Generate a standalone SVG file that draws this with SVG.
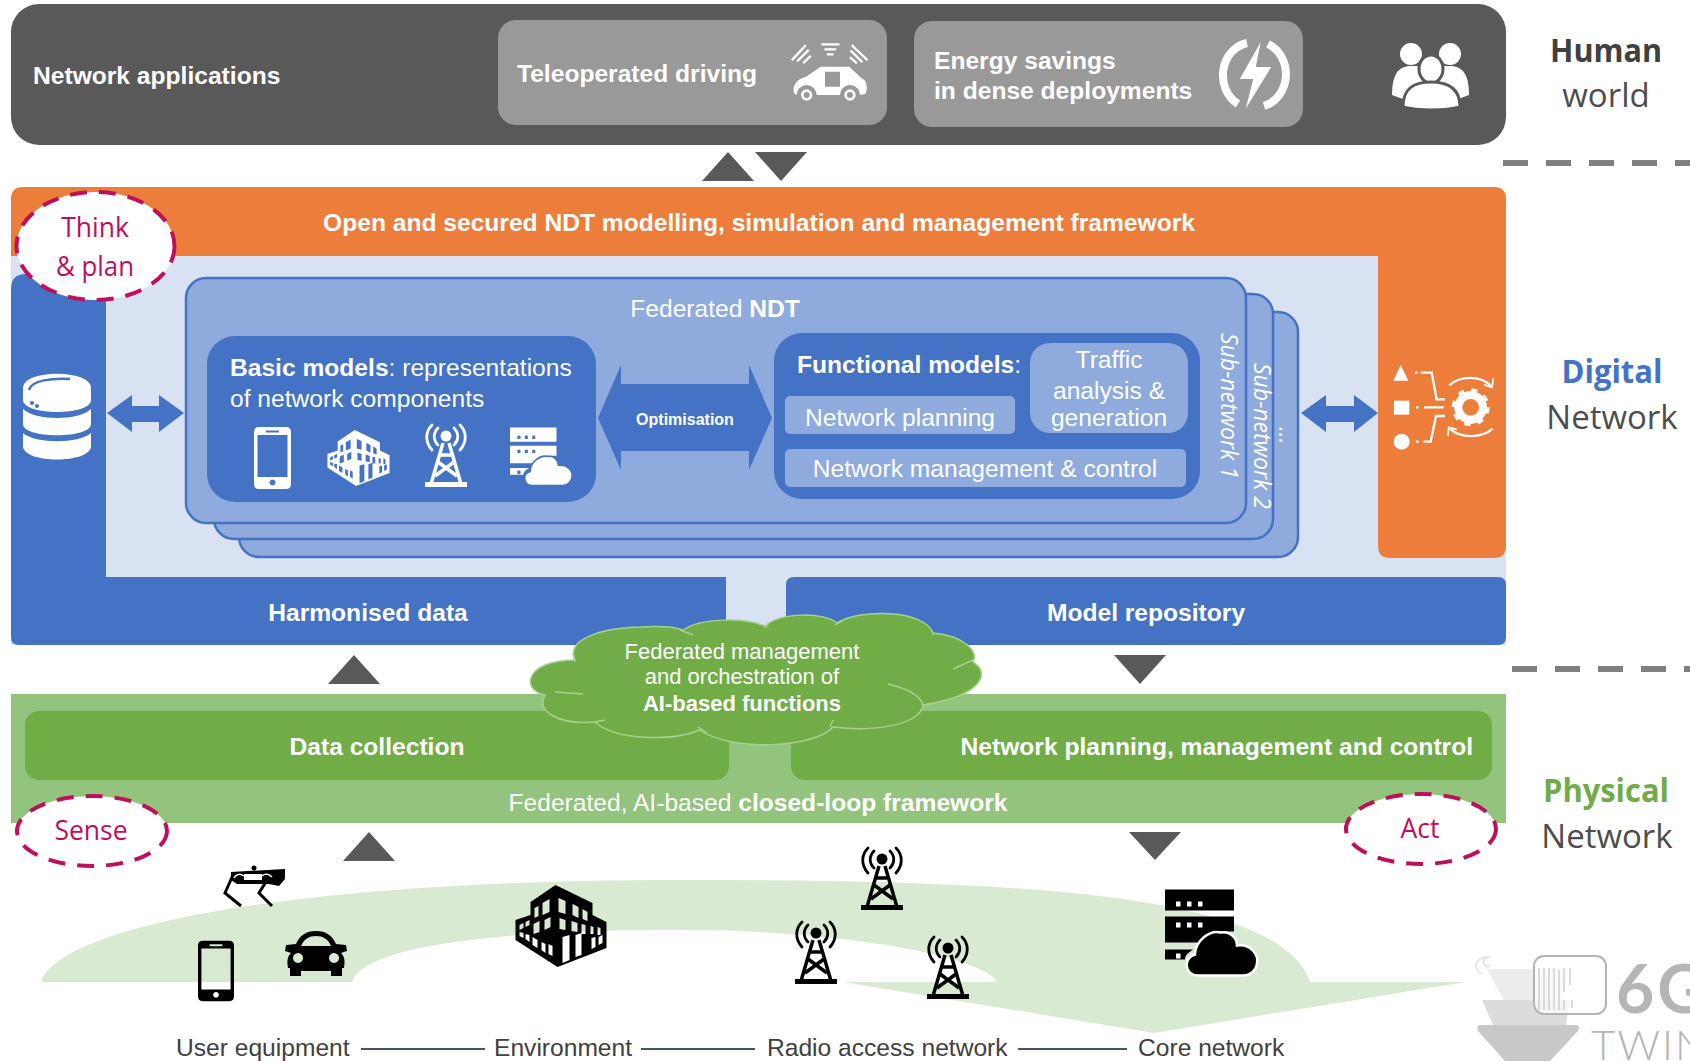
<svg xmlns="http://www.w3.org/2000/svg" xmlns:xlink="http://www.w3.org/1999/xlink" width="1690" height="1061" viewBox="0 0 1690 1061">
<style>
text{font-family:"Liberation Sans",Arial,sans-serif;fill:#fff}
.b{font-weight:bold}
.t24{font-size:24.600px}
.t23{font-size:22px}
.m{text-anchor:middle}
.act{font-family:"Open Sans","Noto Sans",sans-serif;fill:#c00f5a;font-size:26.500px;text-anchor:middle}
.dash{fill:#fff;stroke:#c00f5a;stroke-width:4;stroke-dasharray:17 12}
.side{font-family:"Open Sans","Noto Sans",sans-serif;fill:#4d4d4d;font-size:33px;text-anchor:middle}
.sideb{font-weight:bold}
.sub{font-family:"Open Sans","Noto Sans",sans-serif;font-style:italic;font-size:23px}
.stack{fill:#8faadc;stroke:#4472c4;stroke-width:2.500}
.inner{fill:#8faadc}
.tri{fill:#595959}
.sep{stroke:#7f7f7f;stroke-width:6;stroke-dasharray:25 18;fill:none}
.dbl{fill:#4472c4}
.link{stroke:#44546a;stroke-width:2;fill:none}
.lab{fill:#404040;font-size:24.600px}
.wi{color:#fff;--halo:#4472c4}
.bk{color:#000;--halo:#fff}
.cl{fill:none;stroke:#a9d18e;stroke-width:1.500}
</style>
<defs>
<symbol id="phone" viewBox="0 0 37 62" overflow="visible">
<path fill="currentColor" fill-rule="evenodd" d="M5 0H32Q37 0 37 5V57Q37 62 32 62H5Q0 62 0 57V5Q0 0 5 0ZM3.500 8V50H33.500V8ZM12 3.500V5.500H25V3.500ZM18.500 52.500a3 3 0 1 0 .01 0Z"/>
</symbol>
<symbol id="tower" viewBox="0 0 44 62" overflow="visible">
<g fill="none" stroke="currentColor" stroke-linecap="round">
<circle cx="22" cy="11" r="5.500" fill="currentColor" stroke="none"/>
<path stroke-width="2.800" d="M14 3C9 8 9 15 14 20M30 3C35 8 35 15 30 20"/>
<path stroke-width="2.800" d="M8 0C1 7 1 17 8 25M36 0C43 7 43 17 36 25"/>
<path stroke-width="3.500" stroke-linecap="butt" d="M19 18L7 59M25 18L37 59M14 37L33 51M30 37L11 51M17 30H27"/>
</g>
<rect x="1" y="57" width="42" height="5" fill="currentColor"/>
</symbol>
<symbol id="bld" viewBox="0 0 91 82" overflow="visible">
<path fill="currentColor" fill-rule="evenodd" d="M40 0L77 18V30L91 37V63L42 82L0 55V35L15 30V17ZM19 23V33L23 31V21ZM27 18V30L34 27V14ZM43 13V27L50 29V16ZM57 19V30L63 33V22ZM67 24V34L72 36V27ZM4 40V45L8 43V38ZM10 37V42L14 40V35ZM4 51L8 53V48L4 47ZM10 54L14 57V50L10 49ZM18 39V49L24 47V36ZM29 35V45L35 42V32ZM44 33V44L50 45V35ZM56 36V46L62 47V38ZM66 39V49L70 49V40ZM75 41V49L78 49V42ZM82 42V50L85 50V43ZM17 52V60L22 63V55ZM26 57V65L30 68V59ZM33 59V69L37 71V61ZM47 52V78L54 75V50ZM60 50V72L66 70V48ZM76 53V64L80 62V52ZM83 52V60L87 58V50Z"/>
</symbol>
<symbol id="srv" viewBox="0 0 92 86" overflow="visible">
<path fill="currentColor" d="M0 0H69V21H0ZM0 27H69V42H52C44 45 36 50 34 53H0ZM0 60H28C24 63 20 65 20 70H0Z"/>
<g fill="var(--halo)"><rect x="11" y="12" width="4.500" height="5"/><rect x="22" y="12" width="4.500" height="5"/><rect x="33" y="12" width="4.500" height="5"/><rect x="11" y="33" width="4.500" height="5"/><rect x="22" y="33" width="4.500" height="5"/><rect x="33" y="33" width="4.500" height="5"/><rect x="11" y="64" width="4.500" height="5"/></g>
<path fill="currentColor" stroke="var(--halo)" stroke-width="2.500" d="M33 86C19 86 18 68 30 65C30 52 44 40 56 43C65 41 72 49 72 56C86 54 94 66 92 74C91 82 84 86 78 86Z"/>
</symbol>
<path id="tleft" d="M0 29L26 0L52 29Z"/>
</defs>

<g id="human-world">
<rect x="11" y="4" width="1495" height="141" rx="28" fill="#595959"/>
<text class="b t24" x="33" y="84">Network applications</text>
<g id="teleop">
<rect x="498" y="20" width="389" height="105" rx="18" fill="#999"/>
<text class="b t24" x="517" y="82">Teleoperated driving</text>
<g transform="translate(780 30) scale(.3333)" fill="#fff" stroke="#fff" stroke-width="7" stroke-linecap="square">
<path fill="none" d="M128 43H175M137 58H165M144 73H157M38 88L75 48M54 92L84 62M72 97L90 80M218 48L260 88M214 64L245 94M212 84L228 98"/>
<path stroke="none" fill-rule="evenodd" d="M42 190C36 165 50 148 78 140L122 110H208L245 145C262 150 264 180 256 192L240 195A30 30 0 0 0 180 195H110A30 30 0 0 0 50 195ZM135 125V170H180V125Z"/>
<circle cx="80" cy="195" r="13" fill="none" stroke-width="8"/><circle cx="210" cy="195" r="13" fill="none" stroke-width="8"/>
</g>
</g>
<g id="energy">
<rect x="914" y="21" width="389" height="106" rx="18" fill="#999"/>
<text class="b t24" x="934" y="69">Energy savings</text>
<text class="b t24" x="934" y="99">in dense deployments</text>
<path fill="none" stroke="#fff" stroke-width="8" d="M1247 43A30 33 0 0 0 1238 104M1264 106A30 33 0 0 0 1268 44"/>
<path fill="#fff" stroke="#999" stroke-width="2" d="M1263 36L1238 80H1252L1243 115L1273 66H1257Z"/>
</g>
<g id="people" fill="#fff" stroke="#595959" stroke-width="3">
<circle cx="1411" cy="54" r="11" stroke="none"/><circle cx="1450" cy="54" r="11" stroke="none"/>
<path stroke="none" d="M1392 95C1392 75 1398 66 1411 66H1450C1463 66 1469 75 1469 95L1450 102H1411Z"/>
<ellipse cx="1431" cy="69" rx="12" ry="14"/>
<path d="M1403 107C1403 88 1414 82 1431 82C1448 82 1460 88 1460 107C1445 111 1418 111 1403 107Z"/>
</g>
</g>

<g id="digital-network">
<rect x="11" y="256" width="1495" height="389" fill="#d9e2f3"/>
<path fill="#ed7d3b" d="M11 199Q11 187 23 187H1494Q1506 187 1506 199V546Q1506 558 1494 558H1390Q1378 558 1378 546V256H11Z"/>
<text class="b t24 m" x="759" y="231">Open and secured NDT modelling, simulation and management framework</text>
<path fill="#4472c4" d="M11 289Q11 274 26 274H106V577H726V637Q726 645 718 645H19Q11 645 11 637Z"/>
<text class="b t24 m" x="368" y="621">Harmonised data</text>
<g id="db" transform="translate(23 374)" fill="#fff">
<path d="M0 14C0 -5 68 -5 68 14V26C68 42 0 42 0 26Z"/>
<path d="M0 35C12 47 56 47 68 35V50C68 65 0 65 0 50Z"/>
<path d="M0 59C12 70 56 70 68 59V72C68 90 0 90 0 72Z"/>
<path fill="none" stroke="#4472c4" stroke-width="2.500" d="M6 16C8 6 30 4 47 5"/>
<circle cx="9" cy="29" r="2" fill="#4472c4"/><circle cx="14" cy="32" r="2" fill="#4472c4"/>
</g>
<g id="repo">
<path fill="#4472c4" d="M794 577H1498Q1506 577 1506 585V637Q1506 645 1498 645H786V585Q786 577 794 577Z"/>
<text class="b t24 m" x="1146" y="621">Model repository</text>
</g>
<g id="tools" transform="translate(1380 350) scale(.3333)" fill="#fff" stroke="none">
<path d="M40 92L62 45L85 92Z"/><rect x="42" y="152" width="46" height="42"/><circle cx="65" cy="275" r="24"/>
<g fill="none" stroke="#fff" stroke-width="7"><path d="M105 68H113M122 68H155L170 148H195M108 172H116M132 172H192M108 275H116M130 275H152L168 198H195"/>
<path d="M208 106C240 76 300 76 332 106M338 236C305 266 240 266 210 236"/>
<path d="M340 85L336 112L312 104M204 258L206 232L230 238" stroke-width="5"/></g>
<circle cx="272" cy="172" r="37" fill="none" stroke="#fff" stroke-width="24"/>
<circle cx="272" cy="172" r="50" fill="none" stroke="#fff" stroke-width="14" stroke-dasharray="18 21.270"/>
</g>
<text class="side sideb" x="1612" y="383" textLength="101" lengthAdjust="spacingAndGlyphs" style="fill:#4472c4">Digital</text>
<text class="side" x="1612" y="429">Network</text>
</g>

<g id="ndt-stack">
<rect class="stack" x="239" y="312" width="1059" height="245" rx="20"/>
<rect class="stack" x="214" y="294" width="1059" height="245" rx="20"/>
<rect class="stack" x="186" y="278" width="1060" height="245" rx="20"/>
<text class="t24 m" x="715" y="317">Federated <tspan class="b">NDT</tspan></text>
<text class="sub" transform="translate(1221 333) rotate(90)">Sub-network 1</text>
<text class="sub" transform="translate(1254 363) rotate(90)">Sub-network 2</text>
<text class="sub" transform="translate(1279 427) rotate(90)">...</text>
</g>

<g id="basic-models">
<rect x="207" y="336" width="389" height="166" rx="28" fill="#4472c4"/>
<text class="t24" x="230" y="376"><tspan class="b">Basic models</tspan>: representations</text>
<text class="t24" x="230" y="407">of network components</text>
<g class="wi">
<use href="#phone" x="254" y="427" width="37" height="62"/>
<use href="#bld" x="327" y="430" width="63" height="56"/>
<use href="#tower" x="424" y="425" width="44" height="62"/>
<use href="#srv" x="510" y="427" width="62" height="59"/>
</g>
</g>

<g id="optimisation">
<path class="dbl" d="M598 418L621 365V384H749V365L772 418L749 470V451H621V470Z"/>
<text class="b m" x="685" y="425" font-size="16">Optimisation</text>
</g>

<g id="functional-models">
<rect x="774" y="333" width="426" height="166" rx="28" fill="#4472c4"/>
<text class="t24" x="797" y="373"><tspan class="b">Functional models</tspan>:</text>
<rect class="inner" x="785" y="396" width="230" height="38" rx="5"/>
<text class="t24 m" x="900" y="426">Network planning</text>
<rect class="inner" x="1030" y="343" width="158" height="90" rx="20"/>
<text class="t24 m" x="1109" y="368">Traffic</text>
<text class="t24 m" x="1109" y="399">analysis &amp;</text>
<text class="t24 m" x="1109" y="426">generation</text>
<rect class="inner" x="785" y="449" width="401" height="38" rx="5"/>
<text class="t24 m" x="985" y="477">Network management &amp; control</text>
</g>

<g id="physical-network">
<rect x="11" y="694" width="1495" height="129" fill="#93c47d"/>
<rect x="25" y="711" width="704" height="69" rx="14" fill="#70ad47"/>
<text class="b t24 m" x="377" y="755">Data collection</text>
<rect x="791" y="711" width="701" height="69" rx="14" fill="#70ad47"/>
<text class="b t24" x="1473" y="755" text-anchor="end">Network planning, management and control</text>
<text class="t24 m" x="758" y="811">Federated, AI-based <tspan class="b">closed-loop framework</tspan></text>
<text class="side sideb" x="1606" y="802" textLength="126" lengthAdjust="spacingAndGlyphs" style="fill:#70ad47">Physical</text>
<text class="side" x="1607" y="848">Network</text>
</g>

<g id="cloud">
<path fill="#70ad47" stroke="#a9d18e" stroke-width="1.500" d="M575 660C565 640 600 628 640 627C660 626 675 627 683 630C700 618 745 617 765 626C780 612 825 612 837 623C860 608 925 610 933 633C960 635 980 650 973 662C990 672 985 695 923 705C920 725 875 732 833 727C815 748 730 752 700 730C670 742 615 740 595 722C560 725 535 712 545 695C520 690 525 660 575 660Z"/>
<path class="cl" d="M888 684C905 688 920 695 923 705M953 669L973 660M833 720L830 727M698 727L707 733M595 722L605 720M555 692L583 694M573 653L575 662M680 630L693 635M765 628L769 623M835 625L842 621M933 632L933 635"/>
<text class="t23 m" x="742" y="659">Federated management</text>
<text class="t23 m" x="742" y="684">and orchestration of</text>
<text class="t23 b m" x="742" y="711">AI-based functions</text>
</g>

<g id="think-plan">
<ellipse class="dash" cx="95.500" cy="246" rx="79" ry="54"/>
<text class="act" x="95" y="237">Think</text>
<text class="act" x="95" y="276" textLength="78" lengthAdjust="spacingAndGlyphs">&amp; plan</text>
</g>
<g id="sense">
<ellipse class="dash" cx="92" cy="831" rx="75" ry="35"/>
<text class="act" x="91" y="840">Sense</text>
</g>
<g id="act">
<ellipse class="dash" cx="1421" cy="829" rx="75" ry="35"/>
<text class="act" x="1420" y="838">Act</text>
</g>

<g id="coverage">
<path fill="#d9ead3" d="M41 982C60 925 300 880 680 880C1000 880 1280 890 1310 982H1466L1154 1033L843 982H997C985 958 850 930 680 930C500 930 365 945 352 982Z"/>
<g class="bk">
<use href="#phone" x="198" y="940" width="36" height="62"/>
<use href="#bld" x="515" y="885" width="92" height="82"/>
<use href="#tower" x="794" y="922" width="44" height="62"/>
<use href="#tower" x="860" y="848" width="44" height="62"/>
<use href="#tower" x="926" y="937" width="44" height="62"/>
<use href="#srv" x="1165" y="889" width="92" height="87"/>
</g>
<g id="car" transform="translate(285 931)">
<path fill="#000" fill-rule="evenodd" d="M11 13C15 4 21 0 31 0C41 0 47 4 51 13L61 14L62 20L56 22C60 26 60 30 59 37H57V45H46V40H16V45H5V37H3C2 30 2 26 6 22L0 20L1 14ZM16 15H46C43 8 38 5 31 5C24 5 19 8 16 15ZM13 22a5 5 0 1 0 .01 0ZM49 22a5 5 0 1 0 .01 0Z"/>
</g>
<g id="robot" transform="translate(223 865)" fill="none" stroke="#000">
<path fill="#000" stroke="none" d="M8 7L62 4V14L56 21L46 19H14L8 15Z"/>
<circle cx="31" cy="3" r="2.500" fill="#000" stroke="none"/>
<rect x="21" y="9" width="18" height="6" fill="#fff" stroke="none"/>
<path stroke-width="3" d="M10 10L2 28L18 41M46 12L36 28L49 41"/>
<path stroke="#fff" stroke-width="1.500" d="M11 13C14 8 18 9 21 11M39 11C42 8 46 9 49 12"/>
</g>
</g>

<g id="connectors">
<use href="#tleft" x="702" y="152" class="tri"/>
<path class="tri" d="M755 152H807L781 181Z"/>
<use href="#tleft" x="328" y="655" class="tri"/>
<path class="tri" d="M1114 655H1166L1140 684Z"/>
<use href="#tleft" x="343" y="832" class="tri"/>
<path class="tri" d="M1129 832H1181L1155 860Z"/>
<path class="dbl" d="M107 413L132 395V406H159V395L184 413L159 432V422H132V432Z"/>
<path class="dbl" d="M1301 413L1326 395V406H1354V395L1378 413L1354 432V422H1326V432Z"/>
<path class="sep" d="M1503 163H1690"/>
<path class="sep" d="M1512 669H1690"/>
<path class="link" d="M361 1049H485M641 1049H755M1018 1049H1127"/>
</g>

<g id="labels">
<text class="side sideb" x="1606" y="62" textLength="112" lengthAdjust="spacingAndGlyphs" style="fill:#404040">Human</text>
<text class="side" x="1606" y="107">world</text>
<text class="lab" x="176" y="1056">User equipment</text>
<text class="lab" x="494" y="1056">Environment</text>
<text class="lab" x="767" y="1056">Radio access network</text>
<text class="lab" x="1138" y="1056">Core network</text>
</g>

<g id="logo">
<path fill="none" stroke="#e6e6e6" stroke-width="2" d="M1490 965C1488 968 1483 966 1484 960C1484 958 1486 958 1490 957M1482 974C1472 968 1474 958 1488 957"/>
<path fill="#ececec" d="M1487 969H1570L1560 1012H1510Z"/>
<path fill="#dcdcdc" d="M1482 1000H1570L1566 1025H1493Z"/>
<path fill="#c8c8c8" d="M1480 1025H1575Q1581 1025 1578 1031L1550 1061H1505L1478 1031Q1476 1025 1480 1025Z"/>
<rect x="1534" y="956" width="72" height="58" rx="10" fill="#fff" fill-opacity=".75" stroke="#b3b3b3" stroke-width="2"/>
<path stroke="#d0d0d0" stroke-width="1.500" fill="none" d="M1539 968V1010M1544 968V1010M1549 968V1010M1554 968V1010M1559 970V1010M1564 968V992M1570 968V985M1564 1000V1010M1572 1000V1008"/>
<text x="1616" y="1013" style="font-family:Lato,sans-serif;font-weight:bold;font-size:66px;letter-spacing:3px;fill:#b5b5b5">6G</text>
<text x="1591" y="1060" style="font-family:Lato,sans-serif;font-weight:300;font-size:42px;letter-spacing:2px;fill:#b5b5b5">TWIN</text>
</g>
</svg>
